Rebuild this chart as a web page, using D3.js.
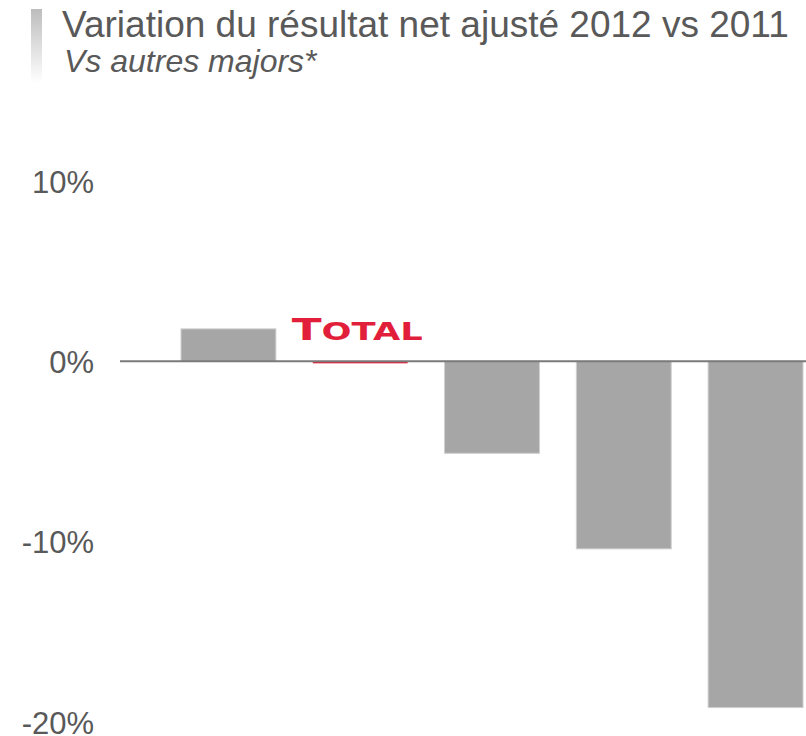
<!DOCTYPE html>
<html>
<head>
<meta charset="utf-8">
<script src="https://cdn.jsdelivr.net/npm/d3@7"></script>
<style>
  body { margin: 0; background: #fff; }
  svg { display: block; font-family: "Liberation Sans", Arial, sans-serif; }
</style>
</head>
<body>
<svg id="chart"></svg>
<script>
const width = 806
const height = 736

// data (% change in adjusted net income 2012 vs 2011)
const companies = ["A", "Total", "C", "D", "E"]
const values = [1.8, -0.1, -5.1, -10.4, -19.2]
const tickValues = [10, 0, -10, -20]

const grey = "#595959"
const red = "#e21f3a"

const svg = d3.select("#chart")
  .attr("width", width)
  .attr("height", height)

// title block with the little fading bar on the left
const grad = svg.append("defs").append("linearGradient")
  .attr("id", "fade")
  .attr("x1", 0).attr("y1", 0).attr("x2", 0).attr("y2", 1)
grad.append("stop").attr("offset", "0%").attr("stop-color", "#bdbdbd")
grad.append("stop").attr("offset", "100%").attr("stop-color", "#ffffff")

svg.append("rect")
  .attr("x", 31).attr("y", 9)
  .attr("width", 11).attr("height", 74)
  .attr("fill", "url(#fade)")

svg.append("text")
  .attr("x", 62).attr("y", 37)
  .attr("fill", grey)
  .style("font-size", "37px")
  .text("Variation du résultat net ajusté 2012 vs 2011")

svg.append("text")
  .attr("x", 64).attr("y", 72)
  .attr("fill", grey)
  .style("font-size", "32px")
  .style("font-style", "italic")
  .text("Vs autres majors*")

// scales
const y = d3.scaleLinear()
  .domain([-20, 10])
  .range([722, 181])

const x = d3.scaleBand()
  .domain(companies)
  .range([181, 803])
  .paddingInner(0.28)
  .paddingOuter(0)

// y tick labels only (no axis line)
const yAxis = svg.append("g")
  .attr("transform", "translate(94,0)")
  .call(d3.axisLeft(y).tickValues(tickValues).tickSize(0).tickPadding(0).tickFormat(d => d + "%"))
yAxis.select(".domain").remove()
yAxis.selectAll("text")
  .attr("fill", grey)
  .attr("dy", "0.36em")
  .style("font-size", "31px")
  .style("font-family", "Liberation Sans, Arial, sans-serif")

// bars
svg.append("g")
  .selectAll("rect")
  .data(values)
  .join("rect")
  .attr("x", (d, i) => x(companies[i]))
  .attr("width", x.bandwidth())
  .attr("y", d => y(Math.max(0, d)))
  .attr("height", d => Math.max(2, Math.abs(y(d) - y(0))))
  .attr("fill", (d, i) => companies[i] === "Total" ? red : "#a6a6a6")
  .attr("stroke", (d, i) => companies[i] === "Total" ? "none" : "#cfcfcf")
  .attr("stroke-width", 1)

// zero line
svg.append("line")
  .attr("x1", 120).attr("x2", width)
  .attr("y1", y(0)).attr("y2", y(0))
  .attr("stroke", "#7a7a7a")
  .attr("stroke-width", 2)

// TOTAL logo label above its bar
const logo = svg.append("text")
  .attr("x", x("Total") - 21)
  .attr("y", 340)
  .attr("fill", red)
  .style("font-family", "DejaVu Sans, sans-serif")
  .style("font-weight", "bold")
  .attr("textLength", 131)
  .attr("lengthAdjust", "spacingAndGlyphs")
logo.append("tspan").style("font-size", "31px").text("T")
logo.append("tspan").style("font-size", "25px").text("OTAL")
</script>
</body>
</html>
